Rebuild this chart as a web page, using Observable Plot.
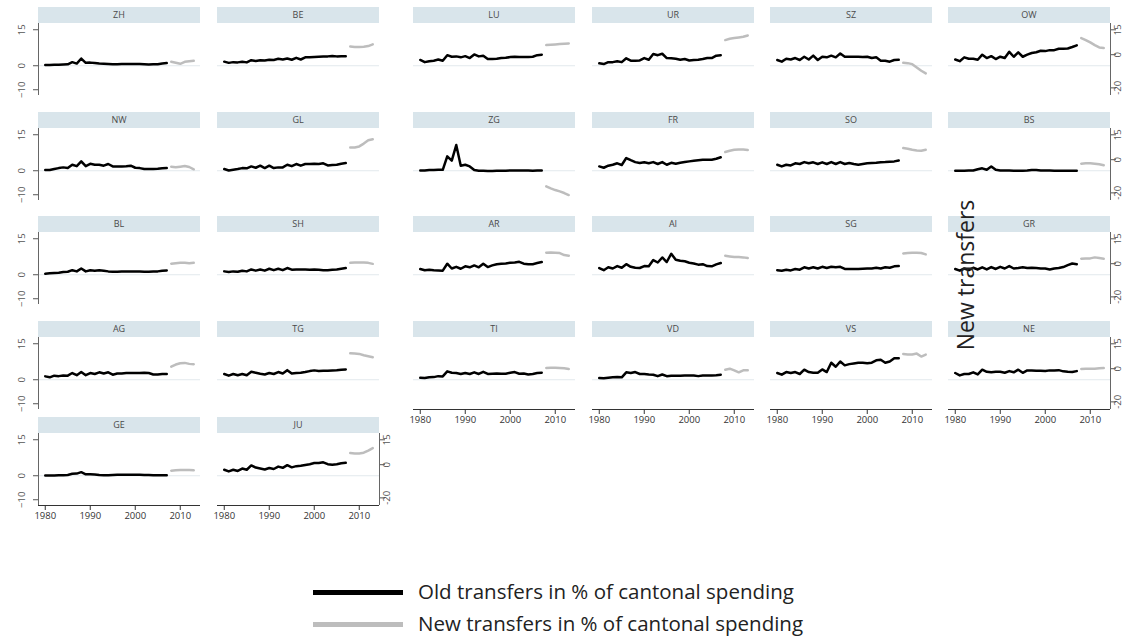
<!DOCTYPE html>
<html><head><meta charset="utf-8">
<script src="https://cdn.jsdelivr.net/npm/d3@7"></script>
<script src="https://cdn.jsdelivr.net/npm/@observablehq/plot@0.6"></script>
<style>
body{margin:0;background:#fff;}
#root{position:relative;width:1131px;height:641px;overflow:hidden;font-family:"Open Sans",sans-serif;}
.hdr{position:absolute;height:16px;background:#d9e5eb;color:#4a4a4a;font-size:9px;text-align:center;line-height:16px;}
.pnl{position:absolute;}
.leg{position:absolute;font-size:20.5px;color:#222;white-space:nowrap;line-height:26px;}
.sw{position:absolute;height:5px;}
.ttl{position:absolute;font-size:23px;color:#222;white-space:nowrap;transform:translate(-50%,-50%) rotate(-90deg);}
</style></head>
<body><div id="root"></div>
<script>
// ---- data ----
const cantons = ["ZH","BE","LU","UR","SZ","OW","NW","GL","ZG","FR","SO","BS","BL","SH","AR","AI","SG","GR","AG","TG","TI","VD","VS","NE","GE","JU"];
const yearsOld = [1980,1981,1982,1983,1984,1985,1986,1987,1988,1989,1990,1991,1992,1993,1994,1995,1996,1997,1998,1999,2000,2001,2002,2003,2004,2005,2006,2007];
const yearsNew = [2008,2009,2010,2011,2012,2013];
const xTicks = [1980,1990,2000,2010];
const leftTicks = [-10,0,15];
const rightTicks = [-20,0,15];

const oldZH = [0.3,0.3,0.4,0.4,0.5,0.6,1.5,0.9,3.0,1.2,1.3,1.1,0.9,0.8,0.7,0.6,0.6,0.7,0.7,0.7,0.7,0.7,0.6,0.5,0.6,0.6,0.9,1.1];
const newZH = [-4.3,-4.9,-5.5,-4.3,-3.9,-3.7];
const oldBE = [1.7,1.2,1.5,1.4,1.7,1.4,2.3,2.0,2.3,2.2,2.5,2.4,2.9,2.6,3.0,2.5,3.3,2.6,3.5,3.5,3.6,3.7,3.8,3.9,4.1,3.9,4.0,4.0];
const newBE = [5.0,4.6,4.6,4.8,5.2,6.2];
const oldLU = [2.4,1.5,1.9,2.1,2.6,2.1,4.4,3.75,3.9,3.5,4.0,3.2,4.7,3.9,4.2,2.8,2.8,2.9,3.2,3.3,3.6,3.75,3.6,3.6,3.6,3.75,4.4,4.6];
const newLU = [5.8,6.0,6.2,6.4,6.6,6.8];
const oldUR = [1.0,0.7,1.5,1.5,1.9,1.5,3.1,2.1,2.1,2.2,3.2,2.5,4.9,4.4,5.0,3.2,3.1,2.9,2.5,2.8,2.2,2.4,2.5,2.8,3.2,3.2,4.2,4.4];
const newUR = [8.8,9.6,10.0,10.4,10.8,11.6];
const oldSZ = [2.4,1.7,2.9,2.6,3.2,2.4,3.75,2.6,4.2,2.4,3.75,3.5,4.2,3.5,5.1,3.75,3.75,3.75,3.75,3.6,3.75,3.2,3.5,2.1,2.1,1.7,2.4,2.5];
const newSZ = [-4.9,-5.1,-5.7,-7.7,-9.7,-11.3];
const oldOW = [2.6,1.9,3.5,2.9,2.9,2.5,4.6,3.2,4.0,2.8,3.75,3.2,5.8,3.75,5.6,3.75,4.6,5.3,5.6,6.25,6.1,6.5,6.5,7.1,7.1,7.2,7.8,8.5];
const newOW = [10.0,8.8,7.4,5.8,4.4,4.0];
const oldNW = [0.3,0.3,0.7,1.1,1.4,1.1,2.5,1.9,3.9,1.9,2.9,2.5,2.5,2.1,2.8,1.8,1.8,1.8,1.9,2.1,1.25,1.1,0.7,0.7,0.7,0.8,1.0,1.1];
const newNW = [-4.2,-4.6,-4.2,-3.8,-4.4,-5.8];
const oldGL = [0.7,0.1,0.4,0.7,1.1,1.0,1.8,1.25,2.1,1.1,2.1,1.1,1.4,1.4,2.5,1.9,2.8,2.1,2.8,2.8,2.9,2.8,3.1,2.2,2.4,2.5,2.9,3.2];
const newGL = [7.4,7.4,8.0,9.7,11.7,12.3];
const oldZG = [0.1,0.1,0.3,0.3,0.4,0.4,6.0,4.2,10.7,2.1,2.5,1.8,0.3,0,0,-0.1,-0.1,0,0,0,0.1,0.1,0.1,0.1,0.1,0,0.1,0.1];
const newZG = [-16.1,-17.3,-18.3,-19.1,-20.1,-21.3];
const oldFR = [1.8,1.25,2.1,2.5,3.1,2.4,5.3,4.4,3.6,3.2,3.5,3.1,3.6,2.8,3.6,2.5,3.3,2.9,3.3,3.6,3.9,4.2,4.4,4.6,4.6,4.6,5.0,5.6];
const newFR = [4.6,5.4,6.0,6.2,6.2,5.8];
const oldSO = [2.5,1.8,2.5,2.2,3.1,2.8,3.6,3.1,3.5,2.8,3.5,2.8,3.6,2.8,3.6,2.8,3.2,2.8,2.5,2.8,3.1,3.2,3.3,3.5,3.6,3.75,3.9,4.3];
const newSO = [7.0,6.6,6.0,5.6,5.4,6.0];
const oldBS = [0,0,0,0.1,0.1,0.6,1.0,0.4,1.8,0.4,0.1,0.1,0.1,0,0,0,0.1,0.3,0.3,0.1,0.1,0.1,0,0,0,0,0,0];
const newBS = [-2.4,-2.2,-2.2,-2.4,-2.8,-3.4];
const oldBL = [0.4,0.6,0.7,0.8,1.1,1.25,1.9,1.4,2.6,1.4,1.9,1.7,1.9,1.7,1.4,1.25,1.25,1.4,1.4,1.4,1.4,1.4,1.25,1.25,1.4,1.4,1.7,1.8];
const newBL = [0,0.3,0.5,0.5,0.3,0.5];
const oldSH = [1.4,1.1,1.4,1.25,1.7,1.4,2.2,1.7,2.2,1.7,2.5,1.9,2.5,1.9,2.8,2.1,2.2,2.2,2.2,2.1,2.2,2.1,1.9,1.9,2.1,2.2,2.5,2.8];
const newSH = [0.5,0.7,0.7,0.7,0.5,-0.1];
const oldAR = [2.4,1.9,2.1,1.9,1.8,1.7,4.6,2.6,3.3,2.5,3.5,3.1,3.9,3.1,4.6,3.2,3.9,4.4,4.6,4.7,5.0,5.1,5.4,4.6,4.4,4.4,4.9,5.3];
const newAR = [6.6,6.8,6.6,6.4,5.2,4.8];
const oldAI = [2.8,1.9,3.1,2.6,3.6,2.9,4.4,3.3,2.9,2.8,3.6,3.5,6.1,5.1,7.2,5.3,8.75,6.25,5.8,5.6,5.0,4.7,4.2,4.4,3.6,3.5,4.3,4.9];
const newAI = [4.8,4.4,4.0,4.0,3.8,3.4];
const oldSG = [1.9,1.7,2.1,1.8,2.4,2.1,3.1,2.6,3.1,2.6,3.3,2.8,3.3,3.1,3.3,2.4,2.4,2.4,2.4,2.5,2.6,2.6,2.9,2.6,3.1,2.9,3.5,3.6];
const newSG = [6.2,6.4,6.6,6.6,6.4,5.6];
const oldGR = [2.4,1.7,2.6,1.9,2.9,2.2,3.1,2.2,3.2,2.4,3.3,2.6,3.6,2.6,2.8,3.1,2.8,2.9,2.8,2.6,2.6,2.2,2.6,2.8,3.2,4.0,4.7,4.4];
const newGR = [3.0,3.2,3.2,3.8,3.4,3.0];
const oldAG = [1.4,1.0,1.7,1.5,1.8,1.7,2.8,1.9,3.2,1.9,2.8,2.4,3.1,2.6,3.1,2.1,2.6,2.6,2.8,2.8,2.8,2.8,2.9,2.8,2.2,2.2,2.4,2.4];
const newAG = [1.2,2.5,3.3,3.5,2.9,2.7];
const oldTG = [2.4,1.7,2.4,1.9,2.4,1.9,3.3,2.9,2.5,2.2,2.8,2.4,3.2,2.6,4.0,2.6,2.8,2.9,3.2,3.6,3.9,3.6,3.75,3.75,3.9,4.0,4.2,4.3];
const newTG = [9.3,9.1,8.9,8.1,7.5,6.9];
const oldTI = [0.8,0.7,1.0,1.1,1.5,1.4,3.5,2.9,2.8,2.4,2.8,2.4,3.1,2.4,3.3,2.4,2.5,2.6,2.5,2.5,2.9,3.2,2.5,2.6,2.2,2.4,2.8,2.9];
const newTI = [0.4,0.6,0.6,0.4,0.2,-0.2];
const oldVD = [0.7,0.6,0.8,1.0,1.1,1.0,3.1,2.8,3.2,2.4,2.4,2.2,2.1,1.5,2.2,1.5,1.7,1.7,1.7,1.8,1.8,1.8,1.5,1.8,1.8,1.8,1.9,2.1];
const newVD = [-0.6,0,-1.0,-2.2,-1.0,-1.0];
const oldVS = [2.8,2.1,3.2,2.8,3.2,2.4,4.2,3.2,2.9,2.9,4.3,3.2,7.1,5.4,7.6,6.0,6.5,6.8,7.1,7.1,6.9,7.1,8.1,8.3,7.1,7.6,9.0,9.0];
const newVS = [8.9,8.5,8.5,9.1,7.3,8.5];
const oldNE = [2.8,1.8,2.4,2.4,3.1,2.2,4.2,3.3,3.1,3.3,3.3,2.9,3.6,3.1,4.2,2.9,3.9,3.9,3.75,3.75,3.6,3.9,3.9,4.0,3.5,3.3,3.2,3.6];
const newNE = [-0.2,0,0,0,0.2,0.4];
const oldGE = [0.1,0.1,0.1,0.2,0.2,0.3,0.8,0.9,1.5,0.6,0.6,0.5,0.3,0.2,0.2,0.3,0.4,0.4,0.4,0.4,0.4,0.4,0.3,0.3,0.2,0.2,0.2,0.2];
const newGE = [-3.6,-3.4,-3.2,-3.2,-3.2,-3.4];
const oldJU = [2.5,1.8,2.5,2.0,3.0,2.5,4.3,3.4,3.0,2.6,3.2,2.8,3.8,3.3,4.4,3.5,4.0,4.2,4.5,4.8,5.3,5.3,5.6,4.8,4.6,4.8,5.2,5.4];
const newJU = [7.0,6.8,6.8,7.2,8.5,10.0];

const oldSeries = {ZH:oldZH,BE:oldBE,LU:oldLU,UR:oldUR,SZ:oldSZ,OW:oldOW,NW:oldNW,GL:oldGL,ZG:oldZG,FR:oldFR,SO:oldSO,BS:oldBS,BL:oldBL,SH:oldSH,AR:oldAR,AI:oldAI,SG:oldSG,GR:oldGR,AG:oldAG,TG:oldTG,TI:oldTI,VD:oldVD,VS:oldVS,NE:oldNE,GE:oldGE,JU:oldJU};
const newSeries = {ZH:newZH,BE:newBE,LU:newLU,UR:newUR,SZ:newSZ,OW:newOW,NW:newNW,GL:newGL,ZG:newZG,FR:newFR,SO:newSO,BS:newBS,BL:newBL,SH:newSH,AR:newAR,AI:newAI,SG:newSG,GR:newGR,AG:newAG,TG:newTG,TI:newTI,VD:newVD,VS:newVS,NE:newNE,GE:newGE,JU:newJU};

// ---- layout ----
const colLeft = [38,217,413,592,770,948];
const rowTop = [7,111.5,216,320.5,417];
const PW = 162, PH = 72, HH = 16;
const ML = 44, MR = 36, MB = 34;
const X = [1978.5, 2014.5];
const L = [-12.4, 17.6];   // left axis (old transfers)
const R = [-24.6, 18.8];   // right axis (new transfers)
const toLeft = r => L[0] + (r - R[0]) * (L[1] - L[0]) / (R[1] - R[0]);
const fromLeft = l => R[0] + (l - L[0]) * (R[1] - R[0]) / (L[1] - L[0]);

const root = document.getElementById("root");
const NC = 6;

cantons.forEach((c, i) => {
  const col = i % NC, row = Math.floor(i / NC);
  const below = i + NC < cantons.length;
  const hasLeft = col === 0;
  const hasRight = col === NC - 1 || i === cantons.length - 1;
  const hasBottom = !below;

  const oldRows = yearsOld.map((y, k) => ({year: y, value: oldSeries[c][k]}));
  const newRows = yearsNew.map((y, k) => ({year: y, value: newSeries[c][k]}));

  const marks = [
    Plot.ruleY([0], {stroke: "#e2e9ed", strokeWidth: 1}),
    Plot.line(oldRows, {x: "year", y: "value", stroke: "#000", strokeWidth: 2.5, strokeLinejoin: "round"}),
    Plot.line(newRows, {x: "year", y: d => toLeft(d.value), stroke: "#bdbdbd", strokeWidth: 2.5, strokeLinejoin: "round"})
  ];
  if (hasLeft) {
    marks.push(Plot.ruleX([X[0]], {stroke: "#666", strokeWidth: 1}));
    marks.push(Plot.axisY({anchor: "left", ticks: leftTicks, tickSize: 5, tickPadding: 9, tickRotate: -90, fontSize: 9.5, color: "#555", label: null}));
  }
  if (hasRight) {
    marks.push(Plot.ruleX([X[1]], {stroke: "#666", strokeWidth: 1}));
    marks.push(Plot.axisY({anchor: "right", ticks: rightTicks.map(toLeft), tickFormat: v => String(Math.round(fromLeft(v))), tickSize: 5, tickPadding: 5, tickRotate: -90, fontSize: 9.5, color: "#555", label: null}));
  }
  if (hasBottom) {
    marks.push(Plot.ruleY([L[0]], {stroke: "#333", strokeWidth: 1}));
    marks.push(Plot.axisX({anchor: "bottom", ticks: xTicks, tickFormat: d => String(d), tickSize: 5, tickPadding: 2, fontSize: 9.5, color: "#333", label: null}));
  }

  const chart = Plot.plot({
    width: ML + PW + MR, height: PH + MB,
    marginLeft: ML, marginRight: MR, marginTop: 0, marginBottom: MB,
    x: {domain: X, axis: null},
    y: {domain: L, axis: null},
    style: {background: "transparent", overflow: "visible", fontFamily: "Open Sans, sans-serif"},
    marks
  });
  chart.classList.add("pnl");
  chart.style.left = (colLeft[col] - ML) + "px";
  chart.style.top = (rowTop[row] + HH) + "px";
  root.appendChild(chart);

  const h = document.createElement("div");
  h.className = "hdr";
  h.textContent = c;
  h.style.left = colLeft[col] + "px";
  h.style.top = rowTop[row] + "px";
  h.style.width = PW + "px";
  root.appendChild(h);
});

// right axis title
const t = document.createElement("div");
t.className = "ttl";
t.textContent = "New transfers";
t.style.left = "965px"; t.style.top = "275px";
root.appendChild(t);

// legend
const legendItems = [
  {label: "Old transfers in % of cantonal spending", color: "#000", y: 592},
  {label: "New transfers in % of cantonal spending", color: "#bdbdbd", y: 624}
];
legendItems.forEach(it => {
  const s = document.createElement("div");
  s.className = "sw"; s.style.background = it.color;
  s.style.left = "313px"; s.style.width = "90px"; s.style.top = (it.y - 2.5) + "px";
  root.appendChild(s);
  const l = document.createElement("div");
  l.className = "leg"; l.textContent = it.label;
  l.style.left = "418px"; l.style.top = (it.y - 14) + "px";
  root.appendChild(l);
});
</script>
</body></html>
